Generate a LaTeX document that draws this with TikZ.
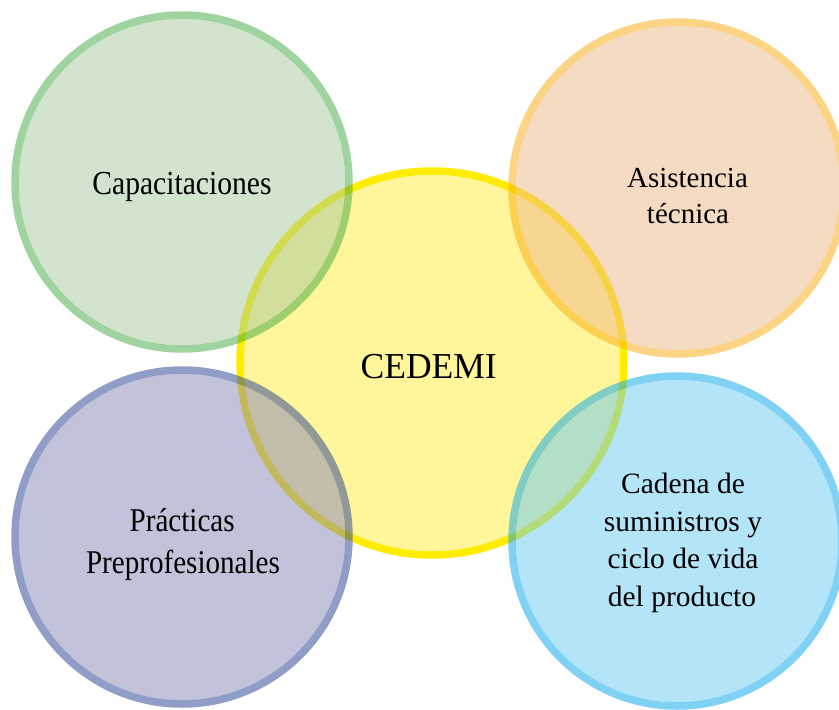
\documentclass[tikz,border=0pt]{standalone}
\usepackage{fontspec}
\setmainfont{Liberation Serif}
\usepackage{graphicx}
\definecolor{yfillc}{RGB}{255,245,155}
\definecolor{ylinec}{RGB}{255,237,0}
\definecolor{gfillc}{RGB}{167,203,157}
\definecolor{glinec}{RGB}{65,169,65}
\definecolor{ofillc}{RGB}{239,185,137}
\definecolor{olinec}{RGB}{251,173,11}
\definecolor{pfillc}{RGB}{135,135,185}
\definecolor{plinec}{RGB}{35,63,145}
\definecolor{bfillc}{RGB}{107,203,243}
\definecolor{blinec}{RGB}{0,167,235}
\tikzset{
  txt/.style={anchor=base, inner sep=0pt, text=black},
  ringline/.style={line width=7.5pt, draw opacity=0.5},
  ringfill/.style={fill opacity=0.5},
}
\begin{document}
\begin{tikzpicture}[x=1pt,y=-1pt]
\useasboundingbox (0,0) rectangle (839,710);
\clip (0,0) rectangle (839,710);
\fill[white] (0,0) rectangle (839,710);
% centre circle (bottom layer)
\fill[yfillc] (432,363) circle[radius=188.25];
\draw[ylinec, line width=7.5pt] (432,363) circle[radius=192];
% green
\fill[gfillc, ringfill] (182,182) circle[radius=163.25];
\draw[glinec, ringline] (182,182) circle[radius=167];
% orange
\fill[ofillc, ringfill] (678,188) circle[radius=162.25];
\draw[olinec, ringline] (678,188) circle[radius=166];
% purple
\fill[pfillc, ringfill] (182,537) circle[radius=163.25];
\draw[plinec, ringline] (182,537) circle[radius=167];
% blue
\fill[bfillc, ringfill] (677,541) circle[radius=161.25];
\draw[blinec, ringline] (677,541) circle[radius=165];
% texts
\node[txt, font=\fontsize{29.6}{36}\selectfont] (cap) at (182,194.5) {\scalebox{1}[1.135]{Capacitaciones}};
\node[txt, font=\fontsize{29}{36}\selectfont] (asis1) at (687.5,187.3) {Asistencia};
\node[txt, font=\fontsize{29}{36}\selectfont] (asis2) at (688,223.3) {técnica};
\node[txt, font=\fontsize{35.5}{40}\selectfont] (cedemi) at (428.7,378) {\scalebox{1}[1.03]{CEDEMI}};
\node[txt, font=\fontsize{29.1}{36}\selectfont] (prac1) at (182.2,531.7) {\scalebox{1}[1.14]{Prácticas}};
\node[txt, font=\fontsize{29.1}{36}\selectfont] (prac2) at (183,573.3) {\scalebox{1}[1.14]{Preprofesionales}};
\node[txt, font=\fontsize{29.5}{36}\selectfont] (cad1) at (683,493.3) {Cadena de};
\node[txt, font=\fontsize{29.5}{36}\selectfont] (cad2) at (683,531.7) {suministros y};
\node[txt, font=\fontsize{29.5}{36}\selectfont] (cad3) at (683,568.3) {ciclo de vida};
\node[txt, font=\fontsize{29.5}{36}\selectfont] (cad4) at (682,606.7) {del producto};
\end{tikzpicture}
\end{document}
